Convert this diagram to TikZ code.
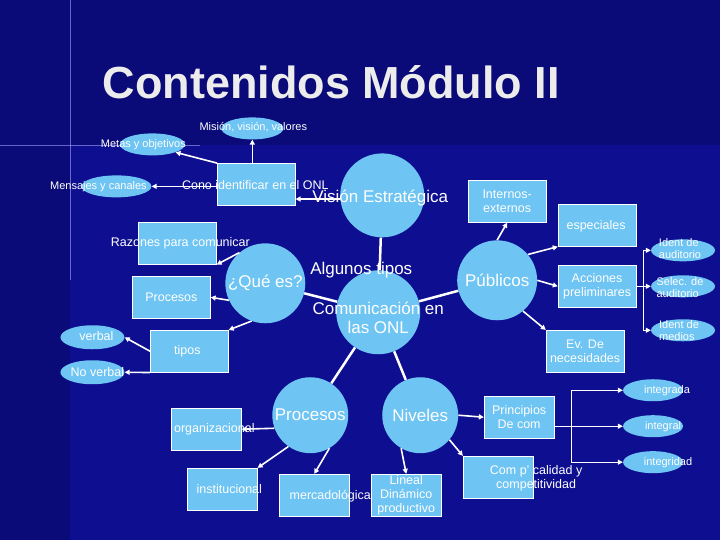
\documentclass[tikz,border=0pt]{standalone}
\usepackage{fontspec}
\setmainfont{Liberation Sans}
\usetikzlibrary{shapes.geometric,arrows.meta}
\definecolor{bg}{HTML}{0A0A78}
\definecolor{bg2}{HTML}{0E0E90}
\definecolor{lb}{HTML}{6EC4F2}
\tikzset{
 circ/.style={circle,fill=lb,minimum size=#1,inner sep=0pt},
 boxn/.style={rectangle,fill=lb,draw=white,line width=0.6pt,minimum width=78pt,minimum height=42pt,inner sep=0pt},
 ell/.style={ellipse,fill=lb,minimum width=#1,minimum height=22pt,inner sep=0pt},
 lab/.style={text=white,font=\fontsize{12.5}{14}\selectfont,align=center},
 sml/.style={text=white,font=\fontsize{11}{12}\selectfont,align=center},
 big/.style={text=white,font=\fontsize{17}{19}\selectfont,align=center},
 arr/.style={draw=white,line width=1.6pt,-{Triangle[length=5pt,width=5pt]}},
 ln/.style={draw=white,line width=2.5pt},
}
\begin{document}
\begin{tikzpicture}[x=1pt,y=-1pt]
\fill[bg] (0,0) rectangle (720,540);
\fill[bg2] (70,145) rectangle (720,540);
\draw[white!40!blue!60,line width=1pt,opacity=0.6] (70,0)--(70,280);
\draw[white!40!blue!60,line width=1pt,opacity=0.6] (0,145)--(200,145);
\node[text=white!85!gray,font=\fontsize{45}{50}\selectfont\bfseries] (title) at (331,82) {Contenidos Módulo II};
% circles
\node[circ=84pt] (vis) at (382,195) {};
\node[circ=84pt] (com) at (378,312) {};
\node[circ=80pt] (que) at (265,283) {};
\node[circ=80pt] (pub) at (497,280) {};
\node[circ=76pt] (pro) at (310,415) {};
\node[circ=76pt] (niv) at (420,415) {};
% boxes
\node[boxn] (cono) at (256,184) {};
\node[boxn] (raz) at (177,243) {};
\node[boxn] (prb) at (171,297) {};
\node[boxn] (tip) at (189,351) {};
\node[boxn] (int) at (507,201) {};
\node[boxn] (esp) at (597,225) {};
\node[boxn] (acc) at (597,286) {};
\node[boxn] (ev) at (585,351) {};
\node[boxn,minimum width=70pt] (org) at (206,429) {};
\node[boxn,minimum width=70pt] (ins) at (222,489) {};
\node[boxn,minimum width=70pt] (mer) at (314,495) {};
\node[boxn,minimum width=70pt] (lin) at (406,495) {};
\node[boxn,minimum width=70pt] (cal) at (498,477) {};
\node[boxn,minimum width=70pt] (pri) at (519,417) {};
% ellipses
\node[ell=62pt] (mis) at (252,128) {};
\node[ell=65pt] (met) at (152,144) {};
\node[ell=70pt] (men) at (116,186) {};
\node[ell=64pt,minimum height=24pt] (ver) at (92,337) {};
\node[ell=64pt,minimum height=24pt] (nov) at (92,372) {};
\node[ell=64pt] (ia) at (683,250) {};
\node[ell=64pt] (sa) at (683,286) {};
\node[ell=64pt] (im) at (683,330) {};
\node[ell=60pt] (ig) at (653,390) {};
\node[ell=60pt] (il) at (653,426) {};
\node[ell=60pt] (id) at (653,462) {};
% connectors
\draw[ln] (vis)--(com);
\draw[ln] (com)--(que);
\draw[ln] (com)--(pub);
\draw[ln] (com)--(pro);
\draw[ln] (com)--(niv);
\draw[arr] (vis.185)--(cono.east|-vis.185);
\draw[arr] (cono.north-|mis)--(mis.south);
\draw[arr] (cono.north west)--(met.south east);
\draw[arr] (cono.west|-men)--(men.east);
\draw[arr] (que.130)--(raz.south east);
\draw[arr] (que.205)--(prb.east);
\draw[arr] (que.250)--(tip.north east);
\draw[arr] (tip.west)--(ver.east);
\draw[arr] (tip.south west)--(nov.east);
\draw[arr] (pub.north)--(int.south);
\draw[arr] (pub.40)--(esp.south west);
\draw[arr] (pub.east)--(acc.west);
\draw[arr] (pub.-50)--(ev.north west);
\coordinate (b1) at (643,286);
\draw[white,line width=1pt] (acc.east)--(b1);
\draw[white,line width=1pt] (643,250)--(643,330);
\draw[arr,line width=1pt] (643,250)--(ia.west);
\draw[arr,line width=1pt] (b1)--(sa.west);
\draw[arr,line width=1pt] (643,330)--(im.west);
\draw[arr] (pro.200)--(org.east);
\draw[arr] (pro.235)--(ins.north east);
\draw[arr] (pro.-60)--(mer.north);
\draw[arr] (niv.240)--(lin.north);
\draw[arr] (niv.-40)--(cal.north west);
\draw[arr] (niv.east)--(pri.west);
\coordinate (b2) at (571,426);
\draw[white,line width=1pt] (pri.east|-b2)--(b2);
\draw[white,line width=1pt] (571,390)--(571,462);
\draw[arr,line width=1pt] (571,390)--(ig.west);
\draw[arr,line width=1pt] (b2)--(il.west);
\draw[arr,line width=1pt] (571,462)--(id.west);
% labels
\node[big] at (380,198) {Visión Estratégica};
\node[big] at (378,318) {Comunicación en\\las ONL};
\node[big] at (361,270) {Algunos tipos};
\node[big] at (265,283) {¿Qué es?};
\node[big] at (497,280) {Públicos};
\node[big] at (310,415) {Procesos};
\node[big] at (420,415) {Niveles};
\node[lab] at (255,185) {Cono identificar en el ONL};
\node[lab] at (180,243) {Razones para comunicar};
\node[lab] at (171,297) {Procesos};
\node[lab] at (187,351) {tipos};
\node[lab] at (507,201) {Internos-\\externos};
\node[lab] at (596,226) {especiales};
\node[lab] at (597,286) {Acciones\\preliminares};
\node[lab] at (585,351) {Ev. De\\necesidades};
\node[lab] at (214,429) {organizacional};
\node[lab] at (229,489) {institucional};
\node[lab] at (330,496) {mercadológica};
\node[lab] at (406,495) {Lineal\\Dinámico\\productivo};
\node[lab] at (536,478) {Com p' calidad y\\competitividad};
\node[lab] at (519,417) {Principios\\De com};
\node[sml] at (253,127) {Misión, visión, valores};
\node[sml] at (143,144) {Metas y objetivos};
\node[sml] at (98,186) {Mensajes y canales};
\node[lab] at (96,336) {verbal};
\node[lab] at (97,372) {No verbal};
\node[sml,align=left] at (680,248) {Ident de\\auditorio};
\node[sml,align=left] at (680,287) {Selec. de\\auditorio};
\node[sml,align=left] at (679,330) {Ident de\\medios};
\node[sml] at (667,390) {integrada};
\node[sml] at (663,426) {integral};
\node[sml] at (668,462) {integridad};
\end{tikzpicture}
\end{document}
